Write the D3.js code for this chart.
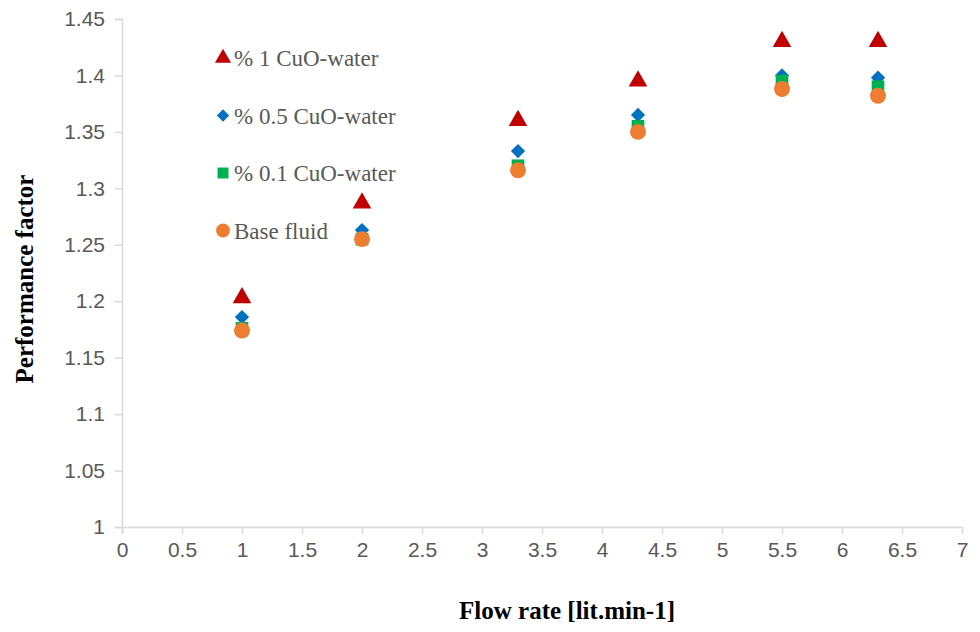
<!DOCTYPE html>
<html>
<head>
<meta charset="utf-8">
<script src="https://cdn.jsdelivr.net/npm/d3@7"></script>
<style>
  body { margin: 0; background: #fff; }
</style>
</head>
<body>
<div id="chart"></div>
<script>
const flowRates = [1, 2, 3.3, 4.3, 5.5, 6.3];
const cuo1 = [1.203, 1.287, 1.360, 1.395, 1.430, 1.430];
const cuo05 = [1.186, 1.263, 1.333, 1.365, 1.400, 1.398];
const cuo01 = [1.176, 1.255, 1.320, 1.355, 1.395, 1.390];
const baseFluid = [1.174, 1.255, 1.316, 1.350, 1.388, 1.382];
const xTicks = [0, 0.5, 1, 1.5, 2, 2.5, 3, 3.5, 4, 4.5, 5, 5.5, 6, 6.5, 7];
const yTicks = [1, 1.05, 1.1, 1.15, 1.2, 1.25, 1.3, 1.35, 1.4, 1.45];

const series = [
  {name: "% 1 CuO-water", values: cuo1, color: "#c00000", shape: d3.symbolTriangle, size: 150},
  {name: "% 0.5 CuO-water", values: cuo05, color: "#0070c0", shape: d3.symbolDiamond2, size: 130},
  {name: "% 0.1 CuO-water", values: cuo01, color: "#00b050", shape: d3.symbolSquare, size: 160},
  {name: "Base fluid", values: baseFluid, color: "#ed7d31", shape: d3.symbolCircle, size: 200}
];

const W = 980, H = 632;
const margin = {top: 19, right: 18, bottom: 105, left: 122};

const svg = d3.select("#chart").append("svg")
  .attr("width", W)
  .attr("height", H);

const x = d3.scaleLinear().domain([0, 7]).range([margin.left, W - margin.right]);
const y = d3.scaleLinear().domain([1, 1.45]).range([H - margin.bottom, margin.top]);

const axisColor = "#d9d9d9";
const serif = "'Liberation Serif', 'Times New Roman', serif";

// X axis
const gx = svg.append("g")
  .attr("transform", `translate(0,${y(1)})`)
  .call(d3.axisBottom(x).tickValues(xTicks).tickSize(7).tickPadding(8).tickFormat(d3.format("")));
// Y axis
const gy = svg.append("g")
  .attr("transform", `translate(${x(0)},0)`)
  .call(d3.axisLeft(y).tickValues(yTicks).tickSize(7).tickPadding(10).tickFormat(d3.format("")));

[gx, gy].forEach(g => {
  g.select(".domain").attr("stroke", axisColor).attr("stroke-width", 1.5);
  g.selectAll(".tick line").attr("stroke", axisColor).attr("stroke-width", 1.5);
  g.selectAll(".tick text")
    .attr("fill", "#595959")
    .style("font-family", "'Liberation Sans', Arial, sans-serif")
    .style("font-size", "21px");
});

// Points
series.forEach(s => {
  svg.append("g").selectAll("path")
    .data(s.values.map((v, i) => ({x: flowRates[i], y: v})))
    .enter()
    .append("path")
      .attr("d", d3.symbol().type(s.shape).size(s.size))
      .attr("transform", d => `translate(${x(d.x)},${y(d.y)})`)
      .attr("fill", s.color);
});

// Legend
const legend = svg.append("g").attr("transform", "translate(223,58)");
series.forEach((s, i) => {
  const row = legend.append("g").attr("transform", `translate(0,${i * 57.5})`);
  row.append("path")
    .attr("d", d3.symbol().type(s.shape).size(s.size * 0.75))
    .attr("fill", s.color);
  row.append("text")
    .attr("x", 11)
    .attr("y", 8)
    .attr("fill", "#595959")
    .style("font-family", serif)
    .style("font-size", "23px")
    .text(s.name);
});

// Axis titles
svg.append("text")
  .attr("x", (x(0) + x(7)) / 2 + 25)
  .attr("y", 619)
  .attr("text-anchor", "middle")
  .style("font-family", serif)
  .style("font-weight", "bold")
  .style("font-size", "25px")
  .text("Flow rate [lit.min-1]");

svg.append("text")
  .attr("transform", `translate(33,${(y(1) + y(1.45)) / 2 + 6}) rotate(-90)`)
  .attr("text-anchor", "middle")
  .style("font-family", serif)
  .style("font-weight", "bold")
  .style("font-size", "25px")
  .text("Performance factor");
</script>
</body>
</html>
